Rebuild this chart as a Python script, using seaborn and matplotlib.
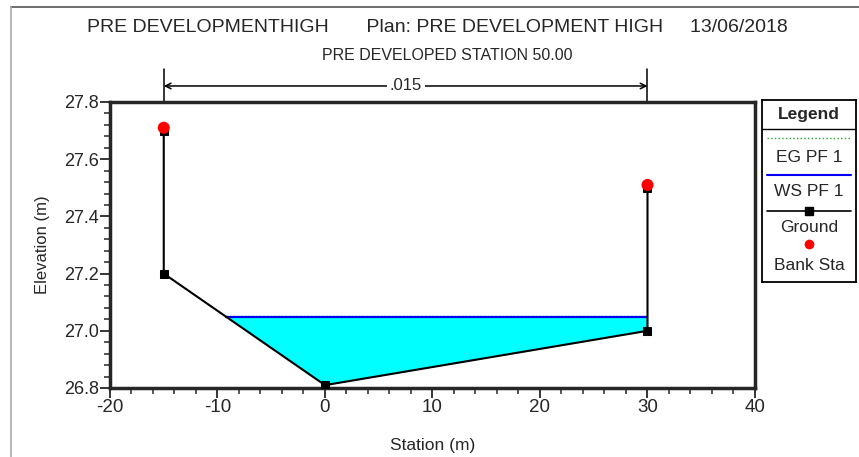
import numpy as np
import pandas as pd
import matplotlib
matplotlib.use("Agg")
import matplotlib.pyplot as plt
import seaborn as sns

# Cross-section data
ground_sta = [-15.0, -15.0, 0.0, 30.0, 30.0]
ground_elev = [27.70, 27.20, 26.81, 27.00, 27.50]
bank_sta = [-15.0, 30.0]
bank_elev = [27.71, 27.51]
ws_elev = 27.05
eg_elev = 27.053
n_value = ".015"
n_range = [-15.0, 30.0]

sns.set_style("ticks")
plt.rcParams['font.family'] = ['Liberation Sans', 'DejaVu Sans']
plt.rcParams['axes.unicode_minus'] = False

fig = plt.figure(figsize=(8.59, 4.57), dpi=100)
ax = fig.add_axes([110 / 859, 1 - 388 / 457, 645 / 859, 286 / 457])

# water surface: intersection of WS with left bank slope
xs = np.array(ground_sta[1:4])
ys = np.array(ground_elev[1:4])
x_left = np.interp(ws_elev, ys[:2][::-1], xs[:2][::-1])
x_fill = np.array([x_left, 0.0, 30.0])
g_fill = np.interp(x_fill, xs, ys)
ax.fill_between(x_fill, g_fill, ws_elev, color='#00ffff', lw=0, zorder=1)

eg = pd.DataFrame({'x': [x_left, 30.0], 'y': [eg_elev, eg_elev]})
ws = pd.DataFrame({'x': [x_left, 30.0], 'y': [ws_elev, ws_elev]})
sns.lineplot(data=eg, x='x', y='y', ax=ax, color='#22aa22', lw=1, ls=':', zorder=2)
sns.lineplot(data=ws, x='x', y='y', ax=ax, color='#0000ee', lw=1.6, zorder=3)

gdf = pd.DataFrame({'x': ground_sta, 'y': ground_elev})
sns.lineplot(data=gdf, x='x', y='y', ax=ax, sort=False, estimator=None, color='black', lw=1.5,
             marker='s', markersize=6, markeredgecolor='black', zorder=4)
bdf = pd.DataFrame({'x': bank_sta, 'y': bank_elev})
sns.scatterplot(data=bdf, x='x', y='y', ax=ax, color='red', s=75, edgecolor='none', zorder=5)

ax.set_xlim(-20, 40)
ax.set_ylim(26.8, 27.8)
ax.set_xticks(np.arange(-20, 41, 10))
ax.set_xticks(np.arange(-20, 41, 2), minor=True)
ax.set_yticks(np.round(np.arange(26.8, 27.81, 0.2), 1))
ax.set_yticks(np.arange(26.8, 27.81, 0.04), minor=True)
ax.set_yticklabels([f"{v:.1f}" for v in np.arange(26.8, 27.81, 0.2)])
for s in ax.spines.values():
    s.set_linewidth(2.5)
    s.set_visible(True)
ax.tick_params(which='major', direction='out', length=7, width=1.3, labelsize=13, pad=1)
ax.tick_params(which='minor', direction='out', length=4, width=1.1)
ax.tick_params(axis='x', labelsize=13.5)
ax.set_xlabel("Station (m)", fontsize=12.5, labelpad=16)
ax.set_ylabel("Elevation (m)", fontsize=12, labelpad=10)

# Manning's n dimension line
tr = ax.get_xaxis_transform()
for xv in n_range:
    ax.plot([xv, xv], [1.0, 1.115], transform=tr, color='black', lw=1.1, clip_on=False)
ax.annotate("", xy=(n_range[0], 1.056), xytext=(n_range[1], 1.056), xycoords=tr, textcoords=tr,
            arrowprops=dict(arrowstyle='<->', color='black', lw=1.1, shrinkA=0, shrinkB=0))
ax.text(np.mean(n_range), 1.056, n_value, transform=tr, ha='center', va='center', fontsize=12,
        bbox=dict(facecolor='white', edgecolor='none', pad=2))

# titles
fig.text(437 / 859, 1 - 28 / 457,
         "PRE DEVELOPMENTHIGH       Plan: PRE DEVELOPMENT HIGH     13/06/2018",
         ha='center', va='center', fontsize=14)
fig.text(447 / 859, 1 - 55 / 457, "PRE DEVELOPED STATION 50.00",
         ha='center', va='center', fontsize=11.5)

# frame border
fig.add_artist(plt.Line2D([11 / 859, 1], [1 - 7 / 457, 1 - 7 / 457], color='#555555', lw=1.2))
fig.add_artist(plt.Line2D([11 / 859, 11 / 859], [0, 1 - 7 / 457], color='#aaaaaa', lw=1.2))

# legend box
lx0, lx1, ly0, ly1 = 762, 856, 100, 282
lg = fig.add_axes([lx0 / 859, 1 - ly1 / 457, (lx1 - lx0) / 859, (ly1 - ly0) / 457])
lg.set_xlim(lx0, lx1)
lg.set_ylim(ly1, ly0)
lg.set_xticks([])
lg.set_yticks([])
for s in lg.spines.values():
    s.set_linewidth(1.3)
    s.set_color('black')
cx = (lx0 + lx1) / 2
lg.text(cx, 115, "Legend", ha='center', va='center', fontsize=12.5, weight='bold')
lg.plot([lx0, lx1], [129, 129], color='black', lw=1)
lg.plot([lx0 + 5, lx1 - 5], [138, 138], color='#22aa22', lw=1, ls=':')
lg.text(cx, 157, "EG PF 1", ha='center', va='center', fontsize=12.5)
lg.plot([lx0 + 5, lx1 - 5], [175, 175], color='#0000ee', lw=1.5)
lg.text(cx, 192, "WS PF 1", ha='center', va='center', fontsize=12.5)
lg.plot([lx0 + 5, lx1 - 5], [211, 211], color='black', lw=1.2)
lg.plot([cx], [211], marker='s', color='black', markersize=6)
lg.text(cx, 228, "Ground", ha='center', va='center', fontsize=12.5)
lg.plot([cx], [244], marker='o', color='red', markersize=7, markeredgecolor='none')
lg.text(cx, 265, "Bank Sta", ha='center', va='center', fontsize=12.5)

fig.savefig("out.png", dpi=100)
